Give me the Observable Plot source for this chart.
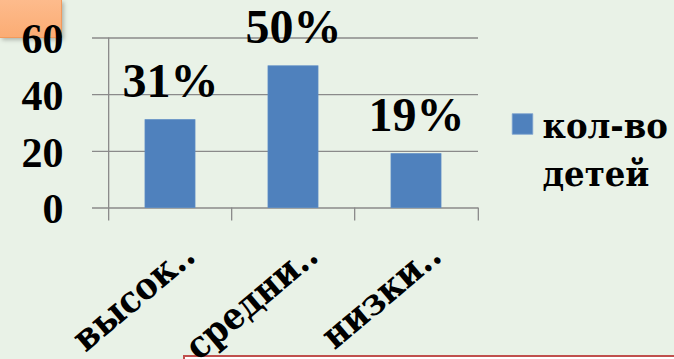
<!DOCTYPE html>
<html><head><meta charset="utf-8">
<script src="https://cdn.jsdelivr.net/npm/d3@7"></script>
<script src="https://cdn.jsdelivr.net/npm/@observablehq/plot@0.6"></script>
<style>
html,body{margin:0;padding:0;background:#e9f2e7;width:674px;height:359px;overflow:hidden;}
#wrap{position:relative;width:674px;height:359px;}
#orange{position:absolute;left:0;top:0;width:61px;height:37px;background:linear-gradient(#fdbb8c,#fbac74);border-right:1px solid #f29a5c;border-bottom:1px solid #f29a5c;box-shadow:2px 2px 4px rgba(0,0,0,0.25);}
#redbox{position:absolute;left:183px;top:355px;width:520px;height:30px;background:#fff;border:2px solid #c0504d;}
#chart{position:absolute;left:0;top:0;}
</style></head><body>
<div id="wrap"><div id="orange"></div><div id="redbox"></div><div id="chart"></div></div>
<script>
const categories = ["высок..", "средни..", "низки.."];
const values = [31, 50, 19];
const valueLabels = ["31%", "50%", "19%"];
const yTicks = [0, 20, 40, 60];
const seriesName = ["кол-во", "детей"];

const rows = categories.map((c, i) => ({category: c, value: values[i], label: valueLabels[i]}));

const W = 674, H = 359;
const mL = 107, mR = 196, mT = 37.5, mB = 151.5;
const step = (W - mL - mR) / categories.length;
const font = {fontFamily: "Liberation Serif", fontWeight: "bold", fill: "#000"};
const cyr = {fontFamily: "'DejaVu Serif Condensed', 'DejaVu Serif', serif", fontWeight: "bold", fill: "#000"};
const gridColor = "#8a8a8a";

const plot = Plot.plot({
  width: W, height: H,
  marginLeft: mL, marginRight: mR, marginTop: mT, marginBottom: mB,
  style: {background: "transparent", overflow: "visible", fontFamily: "Liberation Serif"},
  x: {type: "band", domain: categories, paddingInner: 0.596, paddingOuter: 0.298, axis: null},
  y: {domain: [0, 60], axis: null},
  marks: [
    Plot.ruleY(yTicks, {y: d => d, stroke: gridColor, strokeWidth: 1.3, insetLeft: -15}),
    Plot.ruleX([categories[0]], {x: d => d, dx: -step / 2, y1: 0, y2: 60, insetTop: 13, stroke: gridColor, strokeWidth: 1.3}),
    Plot.ruleX(categories.slice(1), {x: d => d, dx: -step / 2, y1: 0, y2: 0, insetTop: 13, stroke: gridColor, strokeWidth: 1.3}),
    Plot.ruleX(categories.slice(-1), {x: d => d, dx: step / 2, y1: 0, y2: 0, insetTop: 13, stroke: gridColor, strokeWidth: 1.3}),
    Plot.barY(rows, {x: "category", y: "value", fill: "#4f81bd", stroke: "#5a8ac4", strokeWidth: 0.8}),
    Plot.text(yTicks, {y: d => d, text: d => String(d), frameAnchor: "left", dx: -44, dy: 2, textAnchor: "end", fontSize: 42, ...font}),
    Plot.text(rows, {x: "category", y: "value", text: "label", dy: -23, lineAnchor: "bottom", fontSize: 48, ...font}),
    Plot.text(categories, {x: d => d, text: d => d, frameAnchor: "bottom", dx: 27, dy: 51, rotate: -40, textAnchor: "end", lineAnchor: "bottom", fontSize: 37, ...cyr}),
    Plot.dot([seriesName], {frameAnchor: "top-right", dx: 44, dy: 86, symbol: "square", r: 11.6, fill: "#4f81bd", stroke: "#7fa3d0", strokeWidth: 0.8}),
    Plot.text([seriesName.join("\n")], {text: d => d, frameAnchor: "top-right", dx: 64, dy: 147.5, textAnchor: "start", lineAnchor: "bottom", lineHeight: 48 / 36, fontSize: 36, ...cyr})
  ]
});
document.getElementById("chart").appendChild(plot);
</script>
</body></html>
